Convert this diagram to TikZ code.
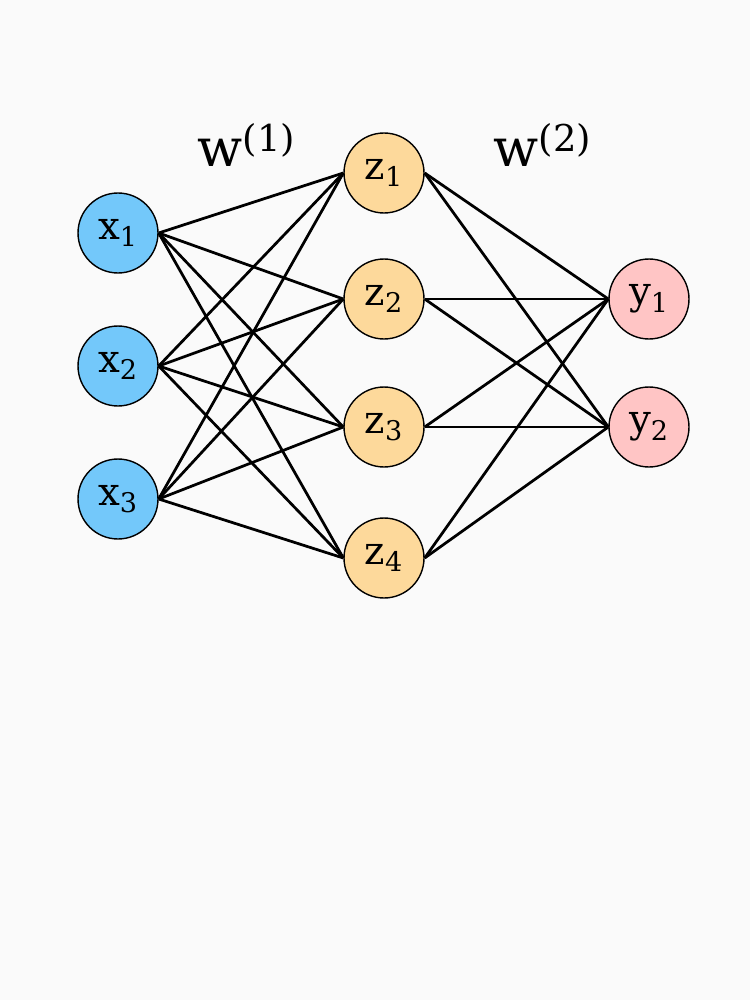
\documentclass[tikz,border=0pt]{standalone}
\usepackage{fontspec}
\setmainfont{DejaVu Serif}
\usepackage{tikz}
\definecolor{BgColor}{RGB}{250,250,250}
\definecolor{InColor}{RGB}{115,200,250}
\definecolor{HidColor}{RGB}{253,217,155}
\definecolor{OutColor}{RGB}{255,197,197}
\tikzset{
	neuron/.style={circle,draw=black,thick,minimum size=1.6cm,inner sep=0pt,font=\fontsize{22}{26}\selectfont},
	link/.style={line width=0.55mm,black}
}

\begin{document}
\begin{tikzpicture}[x=0.02cm,y=-0.02cm]
		% background
		\fill[BgColor] (0,0) rectangle (750,1000);
		\useasboundingbox (0,0) rectangle (750,1000);

		% input layer
		\node[neuron,fill=InColor] (x1) at (118,233) {x\textsubscript{1}};
		\node[neuron,fill=InColor] (x2) at (118,366) {x\textsubscript{2}};
		\node[neuron,fill=InColor] (x3) at (118,499) {x\textsubscript{3}};

		% hidden layer
		\node[neuron,fill=HidColor] (z1) at (384,173) {z\textsubscript{1}};
		\node[neuron,fill=HidColor] (z2) at (384,299) {z\textsubscript{2}};
		\node[neuron,fill=HidColor] (z3) at (384,427) {z\textsubscript{3}};
		\node[neuron,fill=HidColor] (z4) at (384,558) {z\textsubscript{4}};

		% output layer
		\node[neuron,fill=OutColor] (y1) at (649,299) {y\textsubscript{1}};
		\node[neuron,fill=OutColor] (y2) at (649,427) {y\textsubscript{2}};

		% weights
		\foreach \i in {1,2,3}
			\foreach \j in {1,2,3,4}
				\draw[link] (x\i.east) -- (z\j.west);
		\foreach \j in {1,2,3,4}
			\foreach \k in {1,2}
				\draw[link] (z\j.east) -- (y\k.west);

		% layer labels
		\node[font=\fontsize{30}{34}\selectfont] (w1) at (247,145) {w\textsuperscript{(1)}};
		\node[font=\fontsize{30}{34}\selectfont] (w2) at (543,145) {w\textsuperscript{(2)}};

	\end{tikzpicture}
\end{document}
